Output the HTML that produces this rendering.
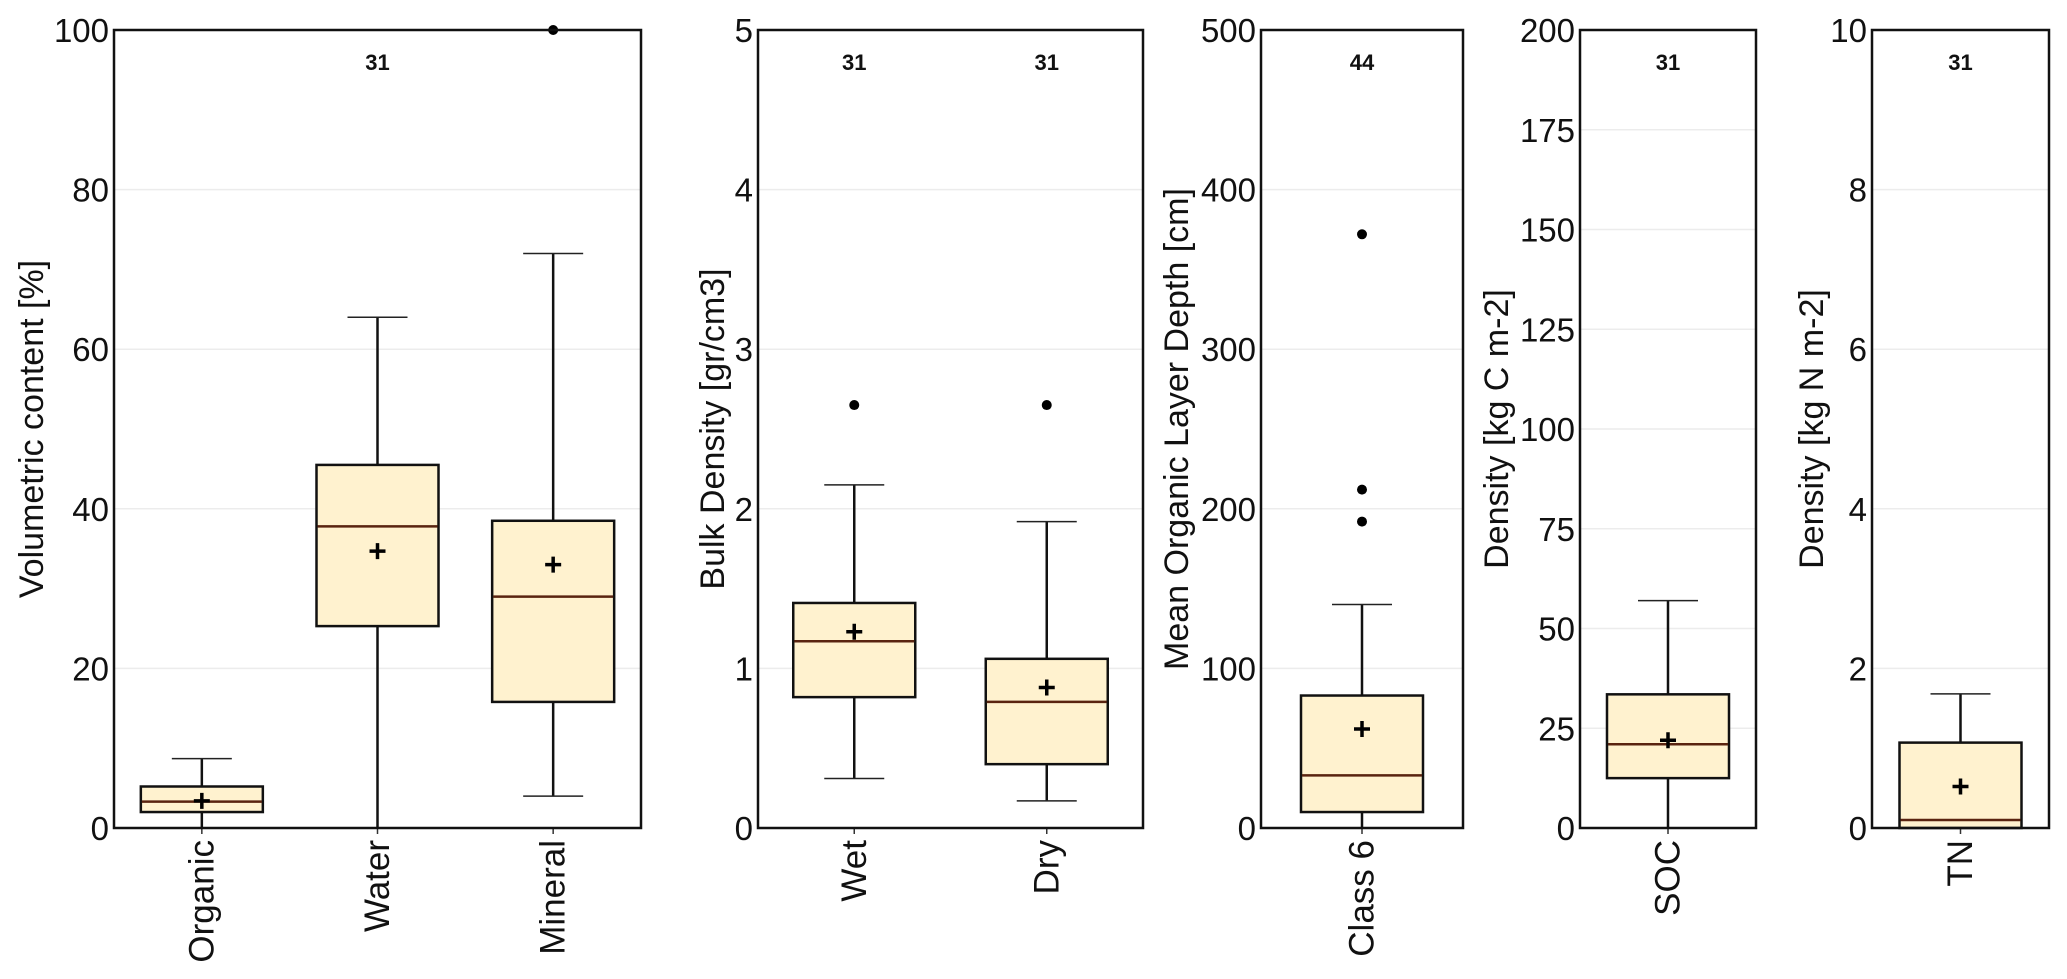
<!DOCTYPE html>
<html><head><meta charset="utf-8"><style>
html,body{margin:0;padding:0;background:#fff}
svg{display:block;font-family:"Liberation Sans",Arial,sans-serif}
</style></head><body>
<svg id="chart" width="2067" height="979" xmlns="http://www.w3.org/2000/svg"></svg>
<script>
// Panel definitions (data only)
const panelTitles = ["Volumetric content [%]","Bulk Density [gr/cm3]","Mean Organic Layer Depth [cm]","Density [kg C m-2]","Density [kg N m-2]"];
const panelMax = [100,5,500,200,10];
const panelTicks = [[0,20,40,60,80,100],[0,1,2,3,4,5],[0,100,200,300,400,500],[0,25,50,75,100,125,150,175,200],[0,2,4,6,8,10]];
const panelCategories = [["Organic","Water","Mineral"],["Wet","Dry"],["Class 6"],["SOC"],["TN"]];
const panelCounts = [[null,"31",null],["31","31"],["44"],["31"],["31"]];
const whiskerLow = [[0,0,4],[0.31,0.17],[0],[0],[0]];
const q1Values = [[2,25.3,15.8],[0.82,0.40],[10],[12.5],[0]];
const medianValues = [[3.3,37.8,29],[1.17,0.79],[33],[21],[0.1]];
const q3Values = [[5.2,45.5,38.5],[1.41,1.06],[83],[33.5],[1.07]];
const whiskerHigh = [[8.7,64,72],[2.15,1.92],[140],[57],[1.68]];
const meanValues = [[3.4,34.7,33],[1.23,0.88],[62],[22],[0.52]];
const outlierValues = [[[],[],[100]],[[2.65],[2.65]],[[372,212,192]],[[]],[[]]];

// layout
const panelLeft=[114,758,1261,1580,1872], panelRight=[641,1143,1463,1756,2049];
const titleX=[32,713,1177,1497,1812];
const plotTop=30,plotBottom=828,boxW=122,capW=60;
const NS="http://www.w3.org/2000/svg";
const svg=document.getElementById('chart');
function mk(tag,attrs,parent){const e=document.createElementNS(NS,tag);for(const k in attrs)e.setAttribute(k,attrs[k]);(parent||svg).appendChild(e);return e;}

for(let p=0;p<5;p++){
  const g=mk('g',{});
  
  
  const L=panelLeft[p],R=panelRight[p];
  const y=v=>plotBottom-(v/panelMax[p])*(plotBottom-plotTop);
  const cats=panelCategories[p];
  const step=(R-L)/cats.length;
  const x=i=>L+step*(i+0.5);
  panelTicks[p].forEach(t=>{
    const gl=mk('line',{x1:L,x2:R,y1:y(t),y2:y(t),stroke:'#ececec','stroke-width':1.5},g);
    
    
    const tl=mk('text',{x:L-5,y:y(t)+12,'text-anchor':'end','font-size':33,fill:'#111'},g);
    
    
    tl.textContent=t;
  });
  const cy=(plotTop+plotBottom)/2;
  const yt=mk('text',{x:titleX[p],y:cy,'text-anchor':'middle','font-size':34,fill:'#111',transform:`rotate(-90 ${titleX[p]} ${cy})`,'dominant-baseline':'central'},g);
  
  
  yt.textContent=panelTitles[p];
  cats.forEach((c,i)=>{
    const cx=x(i);
    const bg=mk('g',{},g);
    
    
    mk('line',{x1:cx,x2:cx,y1:y(whiskerLow[p][i]),y2:y(q1Values[p][i]),stroke:'#111','stroke-width':2.5},bg);
    mk('line',{x1:cx,x2:cx,y1:y(q3Values[p][i]),y2:y(whiskerHigh[p][i]),stroke:'#111','stroke-width':2.5},bg);
    mk('line',{x1:cx-capW/2,x2:cx+capW/2,y1:y(whiskerHigh[p][i]),y2:y(whiskerHigh[p][i]),stroke:'#222','stroke-width':1.5},bg);
    if(whiskerLow[p][i]>0) mk('line',{x1:cx-capW/2,x2:cx+capW/2,y1:y(whiskerLow[p][i]),y2:y(whiskerLow[p][i]),stroke:'#222','stroke-width':1.5},bg);
    mk('rect',{x:cx-boxW/2,y:y(q3Values[p][i]),width:boxW,height:y(q1Values[p][i])-y(q3Values[p][i]),fill:'#fff2cf',stroke:'#111','stroke-width':2.5},bg);
    mk('line',{x1:cx-boxW/2+1,x2:cx+boxW/2-1,y1:y(medianValues[p][i]),y2:y(medianValues[p][i]),stroke:'#5a2410','stroke-width':2.5},bg);
    const my=y(meanValues[p][i]);
    mk('path',{d:`M${cx-8} ${my}H${cx+8}M${cx} ${my-8}V${my+8}`,stroke:'#000','stroke-width':3.5},bg);
    outlierValues[p][i].forEach(o=>{
      const c2=mk('circle',{cx:cx,cy:y(o),r:5,fill:'#000'},bg);
      
      
    });
    mk('line',{x1:cx,x2:cx,y1:plotBottom,y2:plotBottom+6,stroke:'#333','stroke-width':1.5},g);
    const cl=mk('text',{x:cx,y:plotBottom+12,'text-anchor':'end','font-size':35,fill:'#111',transform:`rotate(-90 ${cx} ${plotBottom+12})`,'dominant-baseline':'central'},g);
    
    
    cl.textContent=c;
    if(panelCounts[p][i]){
      const nt=mk('text',{x:cx,y:70,'text-anchor':'middle','font-size':22,'font-weight':'bold',fill:'#111'},g);
      
      
      nt.textContent=panelCounts[p][i];
    }
  });
  const fr=mk('rect',{x:L,y:plotTop,width:R-L,height:plotBottom-plotTop,fill:'none',stroke:'#111','stroke-width':2.5},g);
  
  
}
</script>
</body></html>
